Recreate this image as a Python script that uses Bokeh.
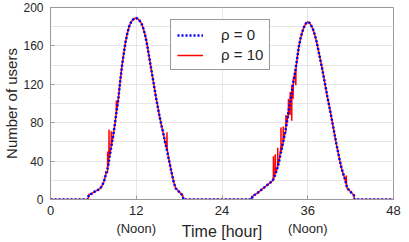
import numpy as np
from bokeh.plotting import figure
from bokeh.models import (Range1d, FixedTicker, SingleIntervalTicker,
                          Legend, LegendItem)
from bokeh.embed import file_html
from bokeh.resources import INLINE

# ---- data ----
hours = [0.0, 5.25, 5.35, 5.75, 6.25, 6.9, 7.2, 7.5, 7.8, 8.05, 8.3, 8.55, 8.8, 9.0,
         9.25, 9.5, 9.75, 10.0, 10.25, 10.5, 10.75, 11.0, 11.25, 11.5, 11.75, 12.0,
         12.25, 12.5, 12.75, 13.0, 13.25, 13.5, 13.75, 14.0, 14.25, 14.5, 14.75, 15.0,
         15.25, 15.5, 15.75, 16.0, 16.25, 16.5, 16.75, 17.0, 17.25, 17.5, 17.75, 18.0,
         18.25, 18.5, 18.6, 28.15, 28.25, 28.5, 29.0, 29.5, 30.0, 30.5, 31.0, 31.25,
         31.5, 31.75, 32.0, 32.25, 32.5, 32.75, 33.0, 33.25, 33.5, 33.75, 34.0, 34.25,
         34.5, 34.75, 35.0, 35.25, 35.5, 35.75, 36.0, 36.25, 36.5, 36.75, 37.0, 37.25,
         37.5, 37.75, 38.0, 38.25, 38.5, 38.75, 39.0, 39.25, 39.5, 39.75, 40.0, 40.25,
         40.5, 40.75, 41.0, 41.25, 41.5, 41.75, 42.0, 42.25, 42.45, 42.55, 48.0]
users_rho0 = [0, 0, 5, 6, 8.5, 11, 14, 19, 28, 34, 46, 57, 68, 78,
              92, 105, 123, 139, 152, 164, 173, 180, 184.5, 187, 188.5, 189,
              188, 186, 183, 178, 171, 162, 151, 140, 129, 118, 107, 97,
              87, 78, 70, 61, 53, 44, 35, 26, 18, 12, 10, 8,
              6, 4.5, 0, 0, 3, 4.5, 7, 10, 13, 16, 19, 22,
              27, 33, 40, 49, 58, 67, 77, 89, 100, 111, 123, 134,
              146, 159, 168, 175, 180, 183.5, 185, 184, 181, 177, 171, 164,
              155, 146, 137, 127, 117, 107, 97.5, 88, 78, 68, 58, 49,
              40, 32, 26, 20, 12, 10, 8, 6, 4.5, 0, 0]

# extra (fluctuating) samples of the rho = 10 run
spike_hours = [7.98, 8.0, 8.02, 8.17, 8.19, 8.21, 8.48, 8.5, 8.52, 9.2, 9.22, 9.25,
               16.28, 16.3, 16.32,
               31.18, 31.2, 31.22, 31.43, 31.45, 31.47, 31.78, 31.8, 31.82,
               32.23, 32.25, 32.27, 32.55, 32.57, 32.59, 32.93, 32.95, 32.97,
               33.28, 33.3, 33.32, 33.53, 33.55, 33.57, 33.76, 33.78, 33.8,
               33.95, 33.97, 33.99, 34.33, 34.35, 34.37, 41.38, 41.4, 41.42]
spike_users = [28, 50, 34, 42, 73, 44, 55, 71, 56, 90, 103, 92,
               52, 70, 53,
               20, 45, 21, 27, 47, 29, 33, 54, 35,
               54, 75, 50, 58, 76, 60, 71, 88, 76,
               85, 105, 90, 88, 112, 100, 82, 119, 110,
               105, 126, 122, 119, 133, 138, 16, 25, 15]

x_ticks = [0, 12, 24, 36, 48]
x_tick_labels = {12: "12\n(Noon)", 36: "36\n(Noon)"}
legend_labels = ["\u03c1 = 0", "\u03c1 = 10"]

# rho = 10 series: baseline samples plus the fluctuating ones, in time order
h10 = np.array(hours + spike_hours)
u10 = np.array(users_rho0 + spike_users)
order = np.argsort(h10, kind="stable")
h10, u10 = h10[order], u10[order]

FONT = "Liberation Sans"
TXT = "#262626"
GRID = "#e6e6e6"
FRAME = "#9a9a9a"

p = figure(width=401, height=242, output_backend="svg", toolbar_location=None,
           x_range=Range1d(0, 48), y_range=Range1d(0, 200),
           min_border_left=41, min_border_right=8, min_border_top=7, min_border_bottom=41)
p.styles = {"margin-top": "0px"}
p.background_fill_color = "white"
p.border_fill_color = "white"
p.outline_line_color = FRAME
p.outline_line_width = 1

red = p.line(h10, u10, line_color="#ff0000", line_width=1.5)
blue = p.line(hours, users_rho0, line_color="#0000ff", line_width=2.5, line_dash="2 2")

# axes
p.xaxis.ticker = FixedTicker(ticks=x_ticks)
p.yaxis.ticker = SingleIntervalTicker(interval=40, num_minor_ticks=2)
for ax in (p.xaxis[0], p.yaxis[0]):
    ax.axis_line_color = FRAME
    ax.major_tick_line_color = FRAME
    ax.major_tick_in = 4
    ax.major_tick_out = 0
    ax.minor_tick_line_color = None
    ax.major_label_text_font = FONT
    ax.major_label_text_font_size = "13px"
    ax.major_label_text_color = TXT
    ax.axis_label_text_font = FONT
    ax.axis_label_text_font_style = "normal"
    ax.axis_label_text_color = TXT
p.xaxis.axis_label = "Time [hour]"
p.yaxis.axis_label = "Number of users"
p.xaxis.major_label_overrides = x_tick_labels
p.xaxis.major_label_text_line_height = 1.2
p.xaxis.axis_label_text_font_size = "16px"
p.yaxis.axis_label_text_font_size = "15px"
p.yaxis.major_label_text_font_size = "12px"
p.xaxis.major_label_standoff = 3
p.yaxis.major_label_standoff = 3
p.xaxis.axis_label_standoff = -16
p.yaxis.axis_label_standoff = 0

# grid
p.xgrid.ticker = FixedTicker(ticks=x_ticks)
p.xgrid.grid_line_color = GRID
p.ygrid.grid_line_color = GRID
p.ygrid.minor_grid_line_color = GRID

legend = Legend(items=[LegendItem(label=legend_labels[0], renderers=[blue]),
                       LegendItem(label=legend_labels[1], renderers=[red])],
                location=(120, 129))
legend.label_text_font = FONT
legend.label_text_font_size = "15px"
legend.label_text_color = TXT
legend.border_line_color = "#333333"
legend.border_line_width = 1
legend.background_fill_alpha = 1
legend.padding = 6
legend.margin = 0
legend.spacing = 3
legend.glyph_width = 26
legend.glyph_height = 16
legend.label_height = 16
legend.label_standoff = 18
p.add_layout(legend, "center")

open("out.html", "w").write(file_html(p, INLINE))
